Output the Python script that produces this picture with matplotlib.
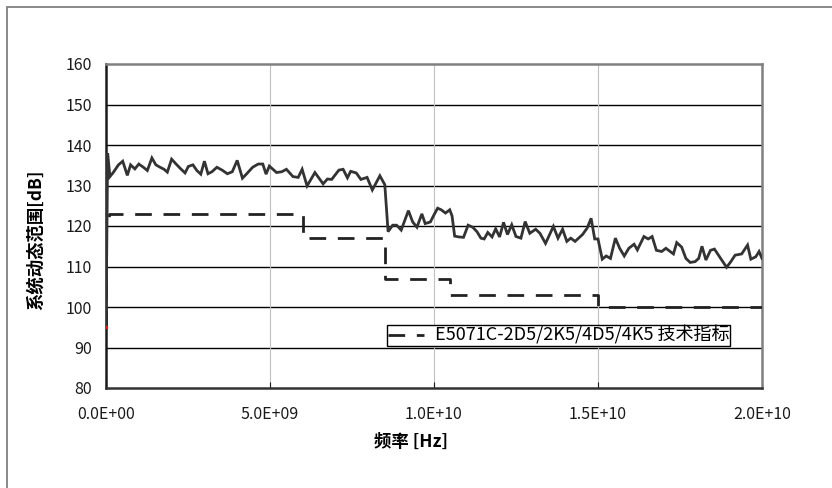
"""Dynamic range chart: measured trace against the E5071C spec line."""

import matplotlib as mpl
mpl.use("Agg")
import matplotlib.pyplot as plt
import numpy as np
from matplotlib.patches import Rectangle
from matplotlib.ticker import FuncFormatter, MultipleLocator

INK = "#1A1A1A"
TRACE = "#333333"
FRAME = "#808080"
VGRID = "#C0C0C0"

# measured system dynamic range
FREQ_GHZ = [
    0.0003, 0.05, 0.12, 0.22, 0.38, 0.51, 0.65, 0.75, 0.88, 1.00, 1.14, 1.26,
    1.40, 1.52, 1.65, 1.77, 1.87, 2.00, 2.16, 2.28, 2.41, 2.51, 2.65, 2.77,
    2.89, 3.00, 3.11, 3.23, 3.38, 3.54, 3.70, 3.85, 4.00, 4.16, 4.29, 4.47,
    4.64, 4.78, 4.88, 4.98, 5.20, 5.36, 5.50, 5.70, 5.86, 5.98, 6.13, 6.37,
    6.62, 6.75, 6.88, 7.10, 7.23, 7.36, 7.46, 7.63, 7.77, 7.96, 8.12, 8.35,
    8.50, 8.60, 8.74, 8.86, 9.00, 9.22, 9.35, 9.48, 9.63, 9.73, 9.89, 9.99,
    10.11, 10.22, 10.35, 10.48, 10.55, 10.63, 10.76, 10.90, 11.04, 11.18,
    11.31, 11.43, 11.53, 11.64, 11.77, 11.88, 12.00, 12.12, 12.24, 12.37,
    12.50, 12.65, 12.78, 12.92, 13.10, 13.23, 13.40, 13.64, 13.78, 13.92,
    14.05, 14.17, 14.30, 14.53, 14.67, 14.79, 14.90, 15.00, 15.13, 15.25,
    15.38, 15.53, 15.66, 15.80, 15.94, 16.10, 16.20, 16.40, 16.53, 16.65,
    16.78, 16.94, 17.07, 17.30, 17.40, 17.55, 17.68, 17.81, 17.96, 18.07,
    18.17, 18.29, 18.43, 18.55, 18.74, 18.92, 19.05, 19.18, 19.38, 19.56,
    19.66, 19.81, 19.91, 20.00,
]
RANGE_DB = [
    95.0, 138.0, 132.2, 133.2, 135.1, 136.0, 132.5, 135.1, 134.1, 135.3, 134.5, 133.7,
    136.8, 135.1, 134.5, 134.0, 133.3, 136.5, 135.1, 134.1, 133.1, 134.7, 135.1, 133.7,
    132.8, 136.0, 132.9, 133.4, 134.5, 133.8, 132.9, 133.4, 136.2, 131.8, 132.9, 134.5,
    135.3, 135.3, 132.8, 134.8, 133.2, 133.4, 134.0, 132.2, 132.0, 134.0, 129.9, 133.2,
    130.4, 131.6, 131.5, 133.8, 134.0, 131.9, 133.5, 133.1, 131.5, 132.0, 128.9, 132.4,
    130.2, 118.6, 120.2, 120.2, 119.0, 123.8, 121.0, 119.7, 123.0, 120.6, 121.0, 122.6,
    124.4, 124.0, 123.2, 124.0, 122.5, 117.5, 117.3, 117.2, 120.2, 119.7,
    118.6, 117.0, 116.8, 118.4, 117.3, 119.3, 117.3, 120.9, 117.9, 120.3,
    117.4, 117.0, 121.1, 118.2, 119.2, 118.2, 115.7, 119.9, 117.0, 119.2,
    116.2, 117.0, 116.2, 117.9, 119.5, 121.9, 116.8, 116.8, 111.8, 112.6,
    112.0, 117.0, 114.5, 112.6, 114.5, 115.5, 114.1, 117.4, 116.8, 117.4,
    114.0, 113.7, 114.5, 113.1, 115.9, 114.8, 112.0, 111.0, 111.2, 112.0,
    115.0, 111.6, 114.0, 114.3, 112.0, 109.8, 111.2, 112.8, 113.1, 115.3,
    111.8, 112.4, 113.7, 112.0,
]

# datasheet limit, stepped by band
SPEC_GHZ = [0.01, 0.01, 0.1, 0.1, 6.0, 6.0, 8.5, 8.5, 10.5, 10.5, 15.0, 15.0, 20.0]
SPEC_DB = [95, 120, 120, 123, 123, 117, 117, 107, 107, 103, 103, 100, 100]

START_GHZ = [0.0003]
START_DB = [95.0]

SPEC_LABEL = "E5071C-2D5/2K5/4D5/4K5 技术指标"
XLABEL = "频率 [Hz]"
YLABEL = "系统动态范围[dB]"

plt.rcParams["font.family"] = ["Liberation Sans Narrow", "Noto Sans CJK SC", "DejaVu Sans"]

fig = plt.figure(figsize=(8.32, 4.88), dpi=100)
fig.patch.set_facecolor("white")

# outer chart frame, runs off the right and bottom edges
fig.add_artist(Rectangle((7 / 832, -0.05), 1.2, 1 - 7 / 488 + 0.05,
                         transform=fig.transFigure, fill=False,
                         edgecolor=FRAME, lw=1.3))

ax = fig.add_axes([106 / 832, 100 / 488, 656 / 832, 324 / 488])

freq = np.array(FREQ_GHZ) * 1e9
spec = np.array(SPEC_GHZ) * 1e9

ax.plot(spec, SPEC_DB, color="#222222", lw=2.0, dashes=(6, 4.2),
        dash_capstyle="butt", label=SPEC_LABEL, zorder=3)
ax.plot(freq, RANGE_DB, color=TRACE, lw=2.0, solid_joinstyle="miter", zorder=4)
ax.plot(np.array(START_GHZ) * 1e9, START_DB, "s", color="#D02020", ms=1.5, zorder=5)

ax.set_xlim(0, 2e10)
ax.set_ylim(80, 160)
ax.xaxis.set_major_locator(MultipleLocator(5e9))
ax.yaxis.set_major_locator(MultipleLocator(10))
ax.xaxis.set_major_formatter(FuncFormatter(lambda v, _: f"{v:.1E}"))

for y in range(90, 160, 10):
    ax.axhline(y, color="black", lw=1.0, zorder=1)
for x in (5e9, 1e10, 1.5e10):
    ax.axvline(x, color=VGRID, lw=0.8, zorder=1)

ax.spines["left"].set_color(INK)
ax.spines["bottom"].set_color("#333333")
ax.spines["left"].set_linewidth(1.8)
ax.spines["bottom"].set_linewidth(1.8)
for side in ("top", "right"):
    ax.spines[side].set_color(FRAME)
    ax.spines[side].set_linewidth(1.8)

ax.tick_params(axis="x", direction="in", length=4, width=0.8, pad=13,
               labelsize=11.5, colors=INK)
ax.tick_params(axis="y", length=0, pad=10, labelsize=11.5, colors=INK)

leg = ax.legend(loc="lower left", bbox_to_anchor=(0.428, 0.130),
                borderaxespad=0, fancybox=False, framealpha=1,
                edgecolor="black", fontsize=13, handlelength=2.0,
                handletextpad=0.6, borderpad=0.05)
leg.get_frame().set_linewidth(1.0)

fig.text(411 / 832, 1 - 442 / 488, XLABEL, ha="center", va="center",
         fontsize=12.5, weight="bold", family=["Noto Sans CJK SC", "DejaVu Sans"])
fig.text(36 / 832, 1 - 240 / 488, YLABEL, ha="center", va="center",
         rotation=90, fontsize=12.5, weight="bold",
         family=["Noto Sans CJK SC", "DejaVu Sans"])

fig.savefig("out.png", dpi=100)
